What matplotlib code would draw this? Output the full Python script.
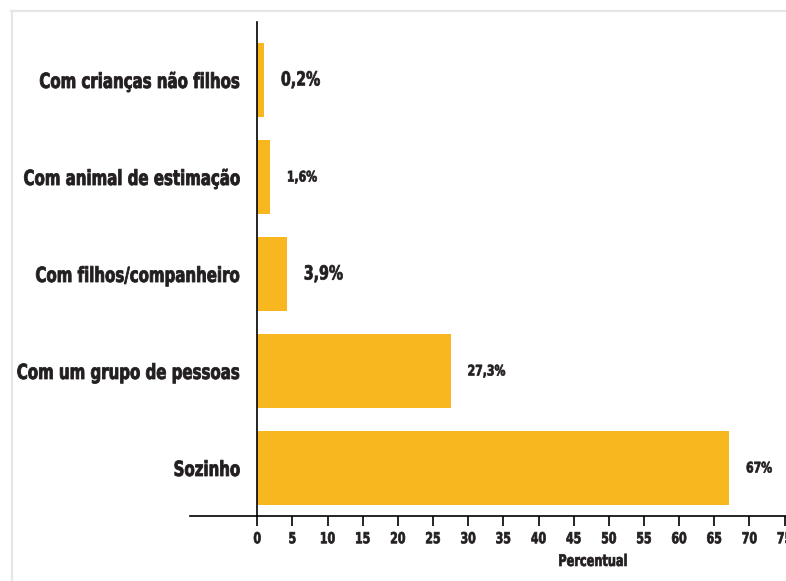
import matplotlib
matplotlib.use("Agg")
from matplotlib import pyplot as plt
from matplotlib import font_manager as fm
from matplotlib.lines import Line2D
from matplotlib.patheffects import AbstractPathEffect
from matplotlib.transforms import Affine2D, offset_copy

# dados (de cima para baixo)
categorias = ["Com crianças não filhos", "Com animal de estimação",
              "Com filhos/companheiro", "Com um grupo de pessoas", "Sozinho"]
# comprimento das barras como aparecem no gráfico
valores = [0.95, 1.8, 4.2, 27.5, 67.1]
rotulos = ["0,2%", "1,6%", "3,9%", "27,3%", "67%"]
grandes = [True, False, True, False, False]
xticks = list(range(0, 80, 5))

COR_BARRA = "#F8B71F"
COR_TEXTO = "#231F20"


def achar_fonte():
    # procura uma fonte estreita em negrito
    achados = []
    for f in fm.fontManager.ttflist:
        nome = (f.name + " " + f.fname).lower()
        if ("narrow" in nome or "condensed" in nome) and "bold" in nome \
                and "italic" not in nome and "oblique" not in nome:
            achados.append(f.fname)
    achados.sort(key=lambda n: ("liberation" not in n.lower(), n))
    return achados[0] if achados else None


caminho = achar_fonte()


def fp(tam):
    if caminho:
        return fm.FontProperties(fname=caminho, size=tam)
    return fm.FontProperties(family="DejaVu Sans", weight="bold", size=tam)


class Estreito(AbstractPathEffect):
    # aperta o texto na horizontal e engrossa um pouco o traço
    def __init__(self, fator=0.8, ancora="left", traco=0.5):
        super().__init__()
        self.fator = fator
        self.ancora = ancora
        self.traco = traco

    def draw_path(self, renderer, gc, tpath, affine, rgbFace=None):
        v = tpath.vertices
        if len(v) == 0:
            return
        if self.ancora == "right":
            c = v[:, 0].max()
        elif self.ancora == "center":
            c = (v[:, 0].min() + v[:, 0].max()) / 2
        else:
            c = 0.0
        t = Affine2D().translate(-c, 0).scale(self.fator, 1).translate(c, 0)
        gc0 = renderer.new_gc()
        gc0.copy_properties(gc)
        if rgbFace is not None:
            gc0.set_foreground(rgbFace)
        gc0.set_linewidth(self.traco)
        gc0.set_joinstyle("round")
        renderer.draw_path(gc0, tpath, t + affine, rgbFace)
        gc0.restore()


fig = plt.figure(figsize=(7.86, 5.81), dpi=100)
ax = fig.add_axes([190 / 786, 65 / 581, 596 / 786, 494 / 581])

pos = list(range(len(categorias)))[::-1]
ax.barh(pos, valores, height=0.76, color=COR_BARRA)

for p, v, r, g in zip(pos, valores, rotulos, grandes):
    tr = offset_copy(ax.transData, fig=fig, x=17, y=0, units="dots")
    ax.text(v, p, r, transform=tr, ha="left", va="center",
            fontproperties=fp(14 if g else 10.5), color=COR_TEXTO,
            path_effects=[Estreito(0.81 if g else 0.83, "left")])

ax.set_xlim(-9.57, 75.2)
ax.set_ylim(-0.495, 4.598)

# eixos
for s in ["top", "right"]:
    ax.spines[s].set_visible(False)
ax.spines["left"].set_position(("data", 0))
ax.spines["left"].set_linewidth(1.2)
ax.spines["bottom"].set_linewidth(1.2)

ax.set_yticks(pos)
ax.set_yticklabels(categorias, fontproperties=fp(15), color=COR_TEXTO)
ax.tick_params(axis="y", length=0, pad=12)
for lab in ax.get_yticklabels():
    lab.set_path_effects([Estreito(0.8, "right", 0.6)])

ax.set_xticks(xticks)
ax.set_xticklabels([str(t) for t in xticks], fontproperties=fp(11),
                   color=COR_TEXTO)
ax.tick_params(axis="x", direction="out", length=7, width=1.2, pad=4)
for lab in ax.get_xticklabels():
    lab.set_path_effects([Estreito(0.8, "center")])

ax.text(47.8, -0.092, "Percentual", transform=ax.get_xaxis_transform(),
        ha="center", va="center", fontproperties=fp(11.5), color=COR_TEXTO,
        path_effects=[Estreito(0.79, "center")])

# moldura cinza
fig.add_artist(Line2D([11 / 786, 1], [1 - 10.5 / 581, 1 - 10.5 / 581],
                      transform=fig.transFigure, color="#E6E6E6", lw=1.6))
fig.add_artist(Line2D([11.5 / 786, 11.5 / 786], [0, 1 - 10.5 / 581],
                      transform=fig.transFigure, color="#E6E6E6", lw=1.6))

fig.savefig("out.png", dpi=100)
